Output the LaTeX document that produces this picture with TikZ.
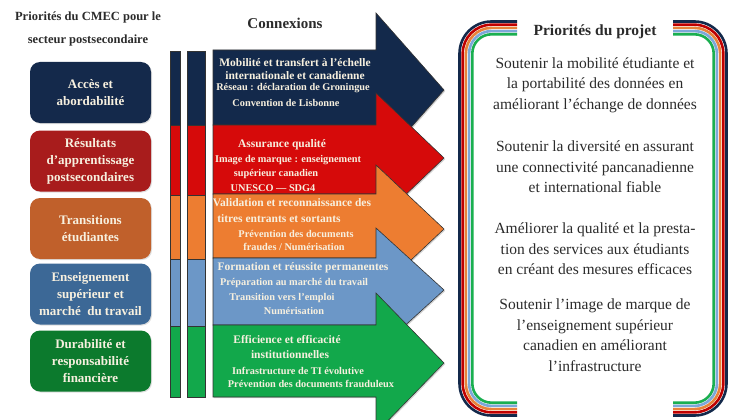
\documentclass[tikz,border=0pt]{standalone}
\usepackage{fontspec}
\setmainfont{Liberation Serif}
\usetikzlibrary{shadows}
\definecolor{navyA}{HTML}{13294B}
\definecolor{redA}{HTML}{D60A0A}
\definecolor{orangeA}{HTML}{ED7D31}
\definecolor{blueA}{HTML}{6C97C7}
\definecolor{greenA}{HTML}{12A84B}
\definecolor{navyB}{HTML}{14294B}
\definecolor{redB}{HTML}{A81C1C}
\definecolor{orangeB}{HTML}{C0602B}
\definecolor{blueB}{HTML}{3C6896}
\definecolor{greenB}{HTML}{0C7A2D}
\definecolor{navyF}{HTML}{13294B}
\definecolor{redF}{HTML}{C00000}
\definecolor{orangeF}{HTML}{E8833A}
\definecolor{blueF}{HTML}{7DA7D9}
\definecolor{greenF}{HTML}{1AAF50}
\definecolor{creamT}{HTML}{F7F0DF}
\definecolor{darkT}{HTML}{2B2B2B}
\newcommand{\procarrow}[6]{\path[arrowsh, fill=#1] (213,#2) -- (376,#2) -- (376,#4) -- (444,#6) -- (376,#5) -- (376,#3) -- (213,#3) -- cycle;}
\begin{document}
\begin{tikzpicture}[x=1pt,y=-1pt,
  cbox/.style={rounded corners=10pt, minimum width=121pt, minimum height=61pt, align=center, text=creamT, font=\bfseries\fontsize{13}{17}\selectfont, inner sep=0pt, drop shadow={opacity=0.25, shadow xshift=1pt, shadow yshift=-1pt}},
  arrowsh/.style={draw=black!80, line width=0.6pt, drop shadow={opacity=0.35, shadow xshift=1.2pt, shadow yshift=-1.2pt}},
  barsh/.style={draw=black!80, line width=0.6pt},
  atit/.style={text=creamT, font=\bfseries\fontsize{11.5}{13}\selectfont, inner sep=0pt},
  asub/.style={text=creamT, font=\bfseries\fontsize{10.3}{12}\selectfont, inner sep=0pt},
  rtext/.style={align=center, font=\fontsize{15.5}{20.5}\selectfont, text=darkT, inner sep=0pt},
  htext/.style={align=center, text=darkT, inner sep=0pt},
  stripe/.style={line width=2.6pt}
]
\path[use as bounding box] (0,0) rectangle (736,420);
\fill[white] (0,0) rectangle (736,420);

% headers
\node[htext, font=\bfseries\fontsize{12.5}{23}\selectfont] (h1) at (88,28.5) {Priorités du CMEC pour le\\secteur postsecondaire};
\node[htext, font=\bfseries\fontsize{15}{18}\selectfont] (h2) at (285,23) {Connexions};

% left boxes
\node[cbox, fill=navyB] (b1) at (90.5,92.5) {Accès et\\abordabilité};
\node[cbox, fill=redB] (b2) at (90.5,161) {Résultats\\d’apprentissage\\postsecondaires};
\node[cbox, fill=orangeB] (b3) at (90.5,228.5) {Transitions\\étudiantes};
\node[cbox, fill=blueB] (b4) at (90.5,294) {Enseignement\\supérieur et\\marché\ \ du travail};
\node[cbox, fill=greenB] (b5) at (90.5,361) {Durabilité et\\responsabilité\\financière};

% bars
\foreach \bx/\bw in {170/10,187/18}{
  \draw[barsh, fill=navyA] (\bx,51) rectangle ++(\bw,74);
  \draw[barsh, fill=redA] (\bx,125) rectangle ++(\bw,70);
  \draw[barsh, fill=orangeA] (\bx,195) rectangle ++(\bw,64);
  \draw[barsh, fill=blueA] (\bx,259) rectangle ++(\bw,67);
  \draw[barsh, fill=greenA] (\bx,326) rectangle ++(\bw,71);
}

% arrows
\begin{scope}
\clip (0,0) rectangle (736,420);
\procarrow{navyA}{50}{125}{13}{167}{90}
\procarrow{redA}{125}{194}{93}{223}{158}
\procarrow{orangeA}{194}{258}{165}{293}{229}
\procarrow{blueA}{258}{325}{228}{352}{290}
\procarrow{greenA}{325}{397}{293}{433}{363}
\end{scope}

% arrow texts
\node[atit] (t1a) at (295,63) {Mobilité et transfert à l’échelle};
\node[atit] (t1b) at (295,76) {internationale et canadienne};
\node[asub] (t1c) at (293,88) {Réseau : déclaration de Groningue};
\node[asub] (t1d) at (286,103) {Convention de Lisbonne};

\node[atit] (t2a) at (282,145) {Assurance qualité};
\node[asub] (t2b) at (288,160) {Image de marque : enseignement};
\node[asub] (t2c) at (276,174) {supérieur canadien};
\node[asub] (t2d) at (273,188) {UNESCO — SDG4};

\node[atit] (t3a) at (292,203) {Validation et reconnaissance des};
\node[atit] (t3b) at (279,219) {titres entrants et sortants};
\node[asub] (t3c) at (296,234) {Prévention des documents};
\node[asub] (t3d) at (294,247) {fraudes / Numérisation};

\node[atit] (t4a) at (303,268) {Formation et réussite permanentes};
\node[asub] (t4b) at (294,283) {Préparation au marché du travail};
\node[asub] (t4c) at (282,298) {Transition vers l’emploi};
\node[asub] (t4d) at (294,311) {Numérisation};

\node[atit] (t5a) at (287,340) {Efficience et efficacité};
\node[atit] (t5b) at (290,355) {institutionnelles};
\node[asub] (t5c) at (298,371) {Infrastructure de TI évolutive};
\node[asub] (t5d) at (311,384) {Prévention des documents frauduleux};

% right frame
\foreach \fcol [count=\fk from 0] in {navyF,redF,orangeF,blueF,greenF}{
  \pgfmathsetmacro\fd{\fk*3.2}
  \pgfmathsetmacro\fxl{459.5+\fd}
  \pgfmathsetmacro\fxr{726.5-\fd}
  \pgfmathsetmacro\fyt{21.5+\fd}
  \pgfmathsetmacro\fyb{415.5-\fd}
  \pgfmathsetmacro\frad{32-\fd}
  \draw[stripe, draw=\fcol, rounded corners=\frad pt] (517,\fyt) -- (\fxl,\fyt) -- (\fxl,\fyb) -- (517,\fyb);
  \draw[stripe, draw=\fcol, rounded corners=\frad pt] (673,\fyt) -- (\fxr,\fyt) -- (\fxr,\fyb) -- (673,\fyb);
}
\node[htext, font=\bfseries\fontsize{15.5}{18}\selectfont] (rt) at (595,32) {Priorités du projet};
\node[rtext] (r1) at (595,85) {Soutenir la mobilité étudiante et\\la portabilité des données en\\améliorant l’échange de données};
\node[rtext] (r2) at (595,167) {Soutenir la diversité en assurant\\une connectivité pancanadienne\\et international fiable};
\node[rtext] (r3) at (595,249) {Améliorer la qualité et la presta-\\tion des services aux étudiants\\en créant des mesures efficaces};
\node[rtext] (r4) at (595,335) {Soutenir l’image de marque de\\l’enseignement supérieur\\canadien en améliorant\\l’infrastructure};
\end{tikzpicture}
\end{document}
